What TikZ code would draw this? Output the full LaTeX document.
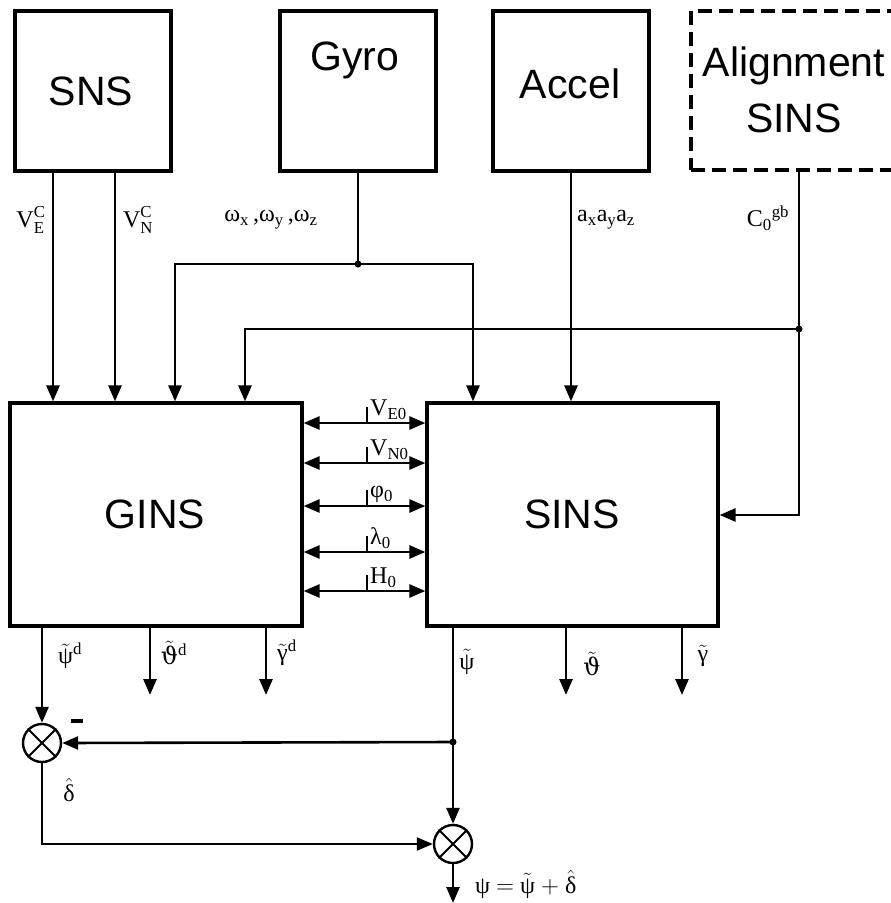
\documentclass[tikz,border=0pt]{standalone}
\usepackage{fontspec}
\setmainfont{Liberation Serif}
\newfontfamily\boxfont{Liberation Sans}
\newfontfamily\dvs{DejaVu Serif}
\usetikzlibrary{arrows.meta}
\newcommand{\tld}[1]{\ensuremath{\tilde{\hbox{#1}}}}
\newcommand{\hatt}[1]{\ensuremath{\hat{\hbox{#1}}}}
\tikzset{
  blk/.style={draw, line width=3.2pt, rectangle, inner sep=0pt},
  dblk/.style={blk, dash pattern=on 14pt off 7pt},
  boxtxt/.style={font=\boxfont\fontsize{41}{56}\selectfont, inner sep=0pt, align=center},
  conn/.style={line width=2.6pt},
  thin/.style={line width=2.2pt},
  arr/.style={conn, -{Triangle[length=16pt,width=13pt]}},
  tarr/.style={thin, -{Triangle[length=16pt,width=13pt]}},
  darr/.style={conn, {Triangle[length=16pt,width=13pt]}-{Triangle[length=16pt,width=13pt]}},
  lbl/.style={font=\fontsize{24}{26}\selectfont, inner sep=0pt},
  sumc/.style={draw, circle, line width=2.4pt, minimum size=38pt, inner sep=0pt},
  junc/.style={circle, fill, inner sep=0pt, minimum size=7pt},
  tick/.style={line width=2.2pt},
}
\begin{document}
\begin{tikzpicture}[x=1pt,y=-1pt]
\useasboundingbox (0,0) rectangle (891,903);
% top boxes
\node[blk, minimum width=156pt, minimum height=160pt] (sns) at (93,91) {};
\node[blk, minimum width=156pt, minimum height=160pt] (gyro) at (358,91) {};
\node[blk, minimum width=156pt, minimum height=160pt] (accel) at (571,91) {};
\node[dblk, minimum width=204pt, minimum height=159pt] (align) at (793,90.5) {};
\node[boxtxt] (snst) at (91,91) {SNS};
\node[boxtxt] (gyrot) at (355,60) {Gyro};
\node[boxtxt] (accelt) at (570,84) {Accel};
\node[boxtxt] (alignt) at (794,90) {Alignment\\SINS};
% main boxes
\node[blk, minimum width=292pt, minimum height=223pt] (gins) at (156,514.5) {};
\node[blk, minimum width=291pt, minimum height=223pt] (sins) at (572.5,514.5) {};
\node[boxtxt] (ginst) at (155,514) {GINS};
\node[boxtxt] (sinst) at (572,514) {SINS};
% column coordinates
\coordinate (c53) at (53,0);
\coordinate (c115) at (115,0);
\coordinate (c175) at (175,0);
\coordinate (c245) at (245,0);
\coordinate (c473) at (473,0);
\coordinate (c799) at (799,0);
% SNS
\draw[arr] (sns.south -| c53) -- (gins.north -| c53);
\draw[arr] (sns.south -| c115) -- (gins.north -| c115);
% Gyro
\node[junc] (jg) at (358,264) {};
\draw[conn] (gyro.south) -- (jg.center);
\draw[arr] (jg.center) -| (gins.north -| c175);
\draw[arr] (jg.center) -| (sins.north -| c473);
% Accel
\draw[arr] (accel.south) -- (sins.north -| accel.south);
% Alignment
\node[junc] (ja) at (799,329) {};
\coordinate (jb) at (799,515);
\draw[conn] (align.south -| c799) -- (ja.center);
\draw[arr] (ja.center) -- (jb) -- (sins.east |- jb);
\draw[arr] (ja.center) -| (gins.north -| c245);
% labels top
\node[lbl] (lve) at (31,220) {$\mathrm{V}_{\mathrm{E}}^{\mathrm{C}}$};
\node[lbl] (lvn) at (138,220) {$\mathrm{V}_{\mathrm{N}}^{\mathrm{C}}$};
\node[lbl] (lw) at (271,220) {ω\textsubscript{x}\,,ω\textsubscript{y}\,,ω\textsubscript{z}};
\node[lbl, anchor=west] (la) at (577,220) {a\textsubscript{x}a\textsubscript{y}a\textsubscript{z}};
\node[lbl] (lc) at (768,218) {C\textsubscript{0}\textsuperscript{gb}};
% double arrows
\foreach \yy/\nm/\tx in {423/v1/V\textsubscript{E0}, 463/v2/V\textsubscript{N0}, 506/v3/φ\textsubscript{0}, 552/v4/λ\textsubscript{0}, 591/v5/H\textsubscript{0}}{
  \coordinate (r\nm) at (0,\yy);
  \draw[darr] (gins.east |- r\nm) -- (sins.west |- r\nm);
  \coordinate (t\nm) at (367,\yy);
  \draw[tick] (t\nm) -- ++(0,-16);
  \node[lbl, anchor=south west] (l\nm) at (370,\yy-3) {\tx};
}
% GINS outputs
\node[sumc] (s1) at (42,743) {};
\draw[line width=2pt] (s1.north east) -- (s1.south west) (s1.north west) -- (s1.south east);
\coordinate (c42) at (42,0);
\draw[arr] (gins.south -| c42) -- (s1.north);
\coordinate (o2) at (150,695);
\coordinate (o3) at (266,695);
\draw[arr] (gins.south -| o2) -- (o2);
\draw[arr] (gins.south -| o3) -- (o3);
\node[lbl] (lpd) at (70,656) {\tld{ψ}\textsuperscript{d}};
\node[lbl] (ltd) at (174,653) {\tld{\dvs ϑ}\textsuperscript{d}};
\node[lbl] (lgd) at (287,653) {\tld{γ}\textsuperscript{d}};
% SINS outputs
\node[sumc] (s2) at (453,844) {};
\draw[line width=2pt] (s2.north east) -- (s2.south west) (s2.north west) -- (s2.south east);
\node[junc] (jd) at (453,742) {};
\draw[conn] (sins.south -| s2.north) -- (jd.center);
\draw[arr] (jd.center) -- (s2.north);
\draw[arr] (jd.center) -- (s1.east);
\coordinate (o5) at (566,695);
\coordinate (o6) at (682,695);
\draw[arr] (sins.south -| o5) -- (o5);
\draw[arr] (sins.south -| o6) -- (o6);
\node[lbl] (lp) at (467,662) {\tld{ψ}};
\node[lbl] (lt) at (592,664) {\tld{\dvs ϑ}};
\node[lbl] (lg) at (703,656) {\tld{γ}};
% combination
\draw[tarr] (s1.south) |- (s2.west);
\coordinate (out) at (453,903);
\draw[arr] (s2.south) -- (out);
\node[inner sep=0pt] (minus) at (77,721) {\rule{12pt}{3.5pt}};
\node[lbl] (ldh) at (69,790) {\hatt{δ}};
\node[lbl, anchor=west] (lf) at (475,884) {ψ $=$ \tld{ψ} $+$ \hatt{δ}};
\end{tikzpicture}
\end{document}
